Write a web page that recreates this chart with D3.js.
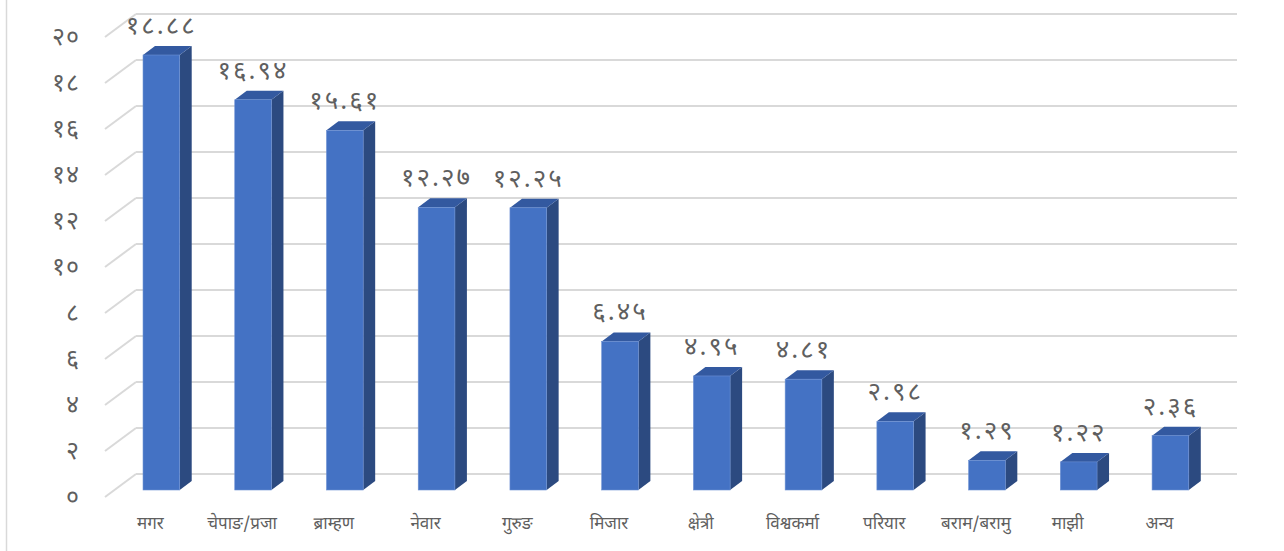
<!DOCTYPE html>
<head>
    <meta charset="utf-8">
    <title>3D column chart</title>
    <style>
        body { margin: 0; background: #fff; }
        text { fill: #5f5f5f; font-family: "Noto Sans Devanagari", "Noto Sans", sans-serif; }
    </style>
</head>
<body>

<svg width="1284" height="551"></svg>

<script src="https://d3js.org/d3.v7.min.js"></script>

<script>

// data
var categories = ['मगर', 'चेपाङ/प्रजा', 'ब्राम्हण', 'नेवार', 'गुरुङ', 'मिजार', 'क्षेत्री', 'विश्वकर्मा', 'परियार', 'बराम/बरामु', 'माझी', 'अन्य'];
var values = [18.88, 16.94, 15.61, 12.27, 12.25, 6.45, 4.95, 4.81, 2.98, 1.29, 1.22, 2.36];
var yTicks = [0, 2, 4, 6, 8, 10, 12, 14, 16, 18, 20];

var devDigits = '०१२३४५६७८९';
var toDev = s => String(s).replace(/[0-9]/g, c => devDigits[+c]);

var svg = d3.select('svg');

// 3d depth offset of the bars
var dx = 12, dy = -9;

// scales: front edge of the side wall, back wall, plane of the bar fronts
var yFront = d3.scaleLinear().domain([0, 20]).range([497, 37]);
var yBack = d3.scaleLinear().domain([0, 20]).range([474, 14]);
var yBar = d3.scaleLinear().domain([0, 20]).range([490, 29.2]);

var x = d3.scaleBand()
    .domain(categories)
    .range([115.5, 1216.3])
    .paddingInner(0.6)
    .paddingOuter(0.3);

// chart border on the left
svg.append('line')
    .attr('x1', 6.5).attr('x2', 6.5)
    .attr('y1', 0).attr('y2', 551)
    .attr('stroke', '#d9d9d9')
    .attr('stroke-width', 1.5);

// back wall gridlines
svg.append('g').selectAll('line')
    .data(yTicks)
    .enter().append('line')
        .attr('x1', 136).attr('x2', 1237)
        .attr('y1', d => yBack(d)).attr('y2', d => yBack(d))
        .attr('stroke', '#d9d9d9')
        .attr('stroke-width', 2);

// side wall gridlines (diagonals)
svg.append('g').selectAll('line')
    .data(yTicks)
    .enter().append('line')
        .attr('x1', 105).attr('x2', 136)
        .attr('y1', d => yFront(d)).attr('y2', d => yBack(d))
        .attr('stroke', '#d9d9d9')
        .attr('stroke-width', 2);

// y axis labels
svg.append('g').selectAll('text')
    .data(yTicks)
    .enter().append('text')
        .attr('x', 80)
        .attr('y', d => yFront(d))
        .attr('dy', '0.32em')
        .attr('text-anchor', 'end')
        .style('font-size', '25px')
        .style('letter-spacing', '1px')
        .text(d => toDev(d));

// bars
var bar = svg.append('g').selectAll('g')
    .data(values)
    .enter().append('g');

var base = yBar(0);

bar.append('polygon') // side
    .attr('fill', '#2c4a80')
    .attr('points', (d, i) => {
        var x1 = x(categories[i]) + x.bandwidth(), t = yBar(d);
        return [[x1, t], [x1 + dx, t + dy], [x1 + dx, base + dy], [x1, base]].join(' ');
    });

bar.append('polygon') // top
    .attr('fill', '#3359a0')
    .attr('points', (d, i) => {
        var x0 = x(categories[i]), x1 = x0 + x.bandwidth(), t = yBar(d);
        return [[x0, t], [x0 + dx, t + dy], [x1 + dx, t + dy], [x1, t]].join(' ');
    });

bar.append('rect') // front
    .attr('fill', '#4472c4')
    .attr('stroke', '#6d91d3')
    .attr('stroke-width', 0.6)
    .attr('x', (d, i) => x(categories[i]))
    .attr('y', d => yBar(d))
    .attr('width', x.bandwidth())
    .attr('height', d => base - yBar(d));

// value labels
bar.append('text')
    .attr('x', (d, i) => x(categories[i]) + x.bandwidth() / 2)
    .attr('y', d => yBar(d) - 21)
    .attr('text-anchor', 'middle')
    .style('font-size', '26px')
    .style('letter-spacing', '2px')
    .text(d => toDev(d3.format('.2f')(d)));

// category labels
svg.append('g').selectAll('text')
    .data(categories)
    .enter().append('text')
        .attr('x', d => x(d) + x.bandwidth() / 2 - 11)
        .attr('y', 523)
        .attr('dy', '0.35em')
        .attr('text-anchor', 'middle')
        .style('font-size', '17px')
        .text(d => d);

</script>

</body>
